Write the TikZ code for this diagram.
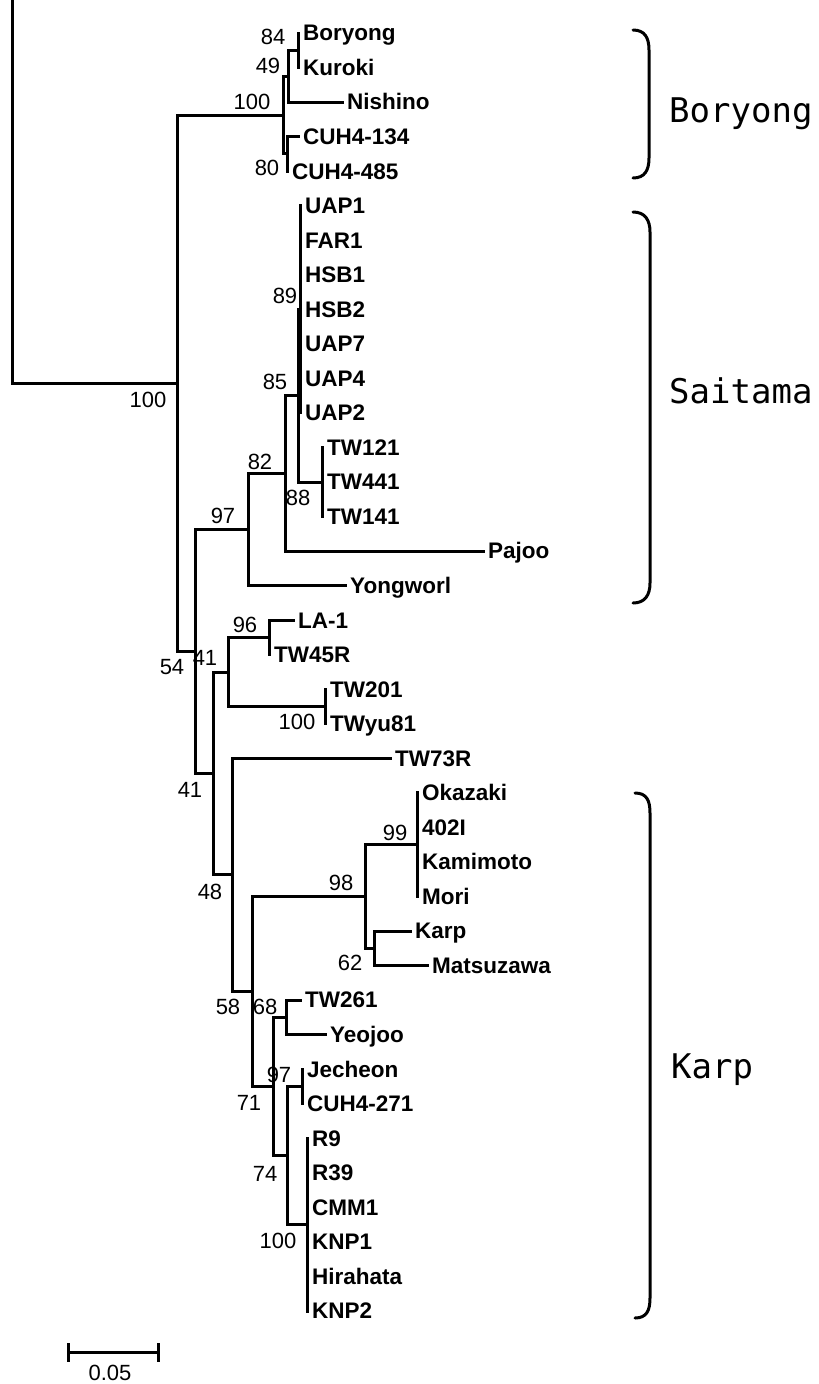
\documentclass[tikz,border=0pt]{standalone}
\usepackage{fontspec}
\setmainfont{Liberation Sans}
\newfontfamily\cladefont{DejaVu Sans Mono}
\begin{document}
\begin{tikzpicture}[x=1pt,y=-1pt,
  br/.style={line width=3pt, line cap=rect, line join=miter},
  leaf/.style={anchor=base west, font=\bfseries\fontsize{22.5}{25}\selectfont, inner sep=0pt, xshift=5pt, yshift=-7.8pt},
  bs/.style={font=\fontsize{22}{24}\selectfont, inner sep=0pt},
  clade/.style={anchor=base west, font=\cladefont\fontsize{34}{38}\selectfont, inner sep=0pt},
  brk/.style={line width=3pt, line cap=round}]
\fill[white] (0,0) rectangle (819,1384);
\useasboundingbox (0,0) rectangle (819,1384);

% internal nodes
\coordinate (out) at (12,-5);
\coordinate (nA) at (177,383.3);
\coordinate (n100a) at (283,115);
\coordinate (n49) at (288,76.2);
\coordinate (n84) at (298,50.3);
\coordinate (n80) at (287,153.9);
\coordinate (n54) at (195,651.5);
\coordinate (n97) at (248,529.5);
\coordinate (n82) at (285,473.4);
\coordinate (n85) at (298,395.7);
\coordinate (n89) at (300,309.3);
\coordinate (n88) at (322,482.0);
\coordinate (n41b) at (213,773.5);
\coordinate (n41a) at (228,672);
\coordinate (n96) at (269,637.5);
\coordinate (n100b) at (325,706.6);
\coordinate (n48) at (232,874.9);
\coordinate (n58) at (252,991.5);
\coordinate (n98) at (365,896.5);
\coordinate (n99) at (417,844.7);
\coordinate (n62) at (374,948.3);
\coordinate (n71) at (273,1086.5);
\coordinate (n68) at (286,1017.4);
\coordinate (n74) at (287,1155.6);
\coordinate (n97b) at (302,1086.5);
\coordinate (n100c) at (307,1224.7);

% leaves
\foreach \i/\x/\y/\t in {
  1/298/33.0/Boryong, 2/298/67.5/Kuroki, 3/342/102.1/Nishino,
  4/298/136.6/CUH4-134, 5/287/171.2/CUH4-485,
  6/300/205.7/UAP1, 7/300/240.2/FAR1, 8/300/274.8/HSB1, 9/300/309.3/HSB2,
  10/300/343.9/UAP7, 11/300/378.4/UAP4, 12/300/412.9/UAP2,
  13/322/447.5/TW121, 14/322/482.0/TW441, 15/322/516.6/TW141,
  16/483/551.1/Pajoo, 17/345/585.6/Yongworl,
  18/293/620.2/LA-1, 19/269/654.7/TW45R, 20/325/689.3/TW201, 21/325/723.8/TWyu81,
  22/390/758.3/TW73R,
  23/417/792.9/Okazaki, 24/417/827.4/402I, 25/417/862.0/Kamimoto, 26/417/896.5/Mori,
  27/410/931.0/Karp, 28/427/965.6/Matsuzawa,
  29/300/1000.1/TW261, 30/325/1034.7/Yeojoo,
  31/302/1069.2/Jecheon, 32/302/1103.8/CUH4-271,
  33/307/1138.3/R9, 34/307/1172.8/R39, 35/307/1207.4/CMM1,
  36/307/1241.9/KNP1, 37/307/1276.5/Hirahata, 38/307/1311.0/KNP2}
{
  \coordinate (t\i) at (\x,\y);
  \node[leaf] (l\i) at (t\i) {\t};
}

% connectors
\foreach \p/\c in {out/nA, nA/n100a, nA/n54,
  n100a/n49, n100a/n80, n49/n84, n49/t3, n84/t1, n84/t2, n80/t4, n80/t5,
  n54/n97, n54/n41b, n97/n82, n97/t17, n82/n85, n82/t16, n85/n89, n85/n88,
  n89/t6, n89/t7, n89/t8, n89/t9, n89/t10, n89/t11, n89/t12,
  n88/t13, n88/t14, n88/t15,
  n41b/n41a, n41b/n48, n41a/n96, n41a/n100b, n96/t18, n96/t19,
  n100b/t20, n100b/t21, n48/t22, n48/n58, n58/n98, n58/n71,
  n98/n99, n98/n62, n99/t23, n99/t24, n99/t25, n99/t26, n62/t27, n62/t28,
  n71/n68, n71/n74, n68/t29, n68/t30, n74/n97b, n74/n100c,
  n97b/t31, n97b/t32,
  n100c/t33, n100c/t34, n100c/t35, n100c/t36, n100c/t37, n100c/t38}
{ \draw[br] (\p) |- (\c); }

% bootstrap values
\foreach \n/\x/\y/\v in {
  b1/273/37/84, b2/268/66/49, b3/252/102/100, b4/267/168/80,
  b5/148/400/100, b6/285/296/89, b7/275/382/85, b8/260/462/82,
  b9/298/498/88, b10/223/516/97, b11/245/625/96, b12/172/667/54,
  b13/205/658/41, b14/297/722/100, b15/190/790/41, b16/210/892/48,
  b17/341/883/98, b18/395/833/99, b19/350/963/62, b20/228/1007/58,
  b21/265/1007/68, b22/279/1075/97, b23/249/1103/71, b24/265/1174/74,
  b25/278/1241/100}
{ \node[bs] (\n) at (\x,\y) {\v}; }

% clade brackets
\draw[brk] (633,30) .. controls (645,30) and (649,38) .. (649,50) -- (649,158) .. controls (649,170) and (645,178) .. (633,178);
\draw[brk] (633,212) .. controls (645,212) and (650,220) .. (650,232) -- (650,583) .. controls (650,595) and (645,603) .. (633,603);
\draw[brk] (635,793) .. controls (647,793) and (650,801) .. (650,813) -- (650,1298) .. controls (650,1310) and (647,1318) .. (635,1318);
\node[clade] (cB) at (669,122) {Boryong};
\node[clade] (cS) at (669,403) {Saitama};
\node[clade] (cK) at (671,1078) {Karp};

% scale bar
\coordinate (s1) at (68,1352);
\coordinate (s2) at (158,1352);
\draw[line width=3pt] (s1) -- (s2);
\draw[line width=3pt] ([yshift=9pt]s1) -- ([yshift=-10pt]s1);
\draw[line width=3pt] ([yshift=9pt]s2) -- ([yshift=-10pt]s2);
\node[bs] (sl) at (110,1373) {0.05};
\end{tikzpicture}
\end{document}
